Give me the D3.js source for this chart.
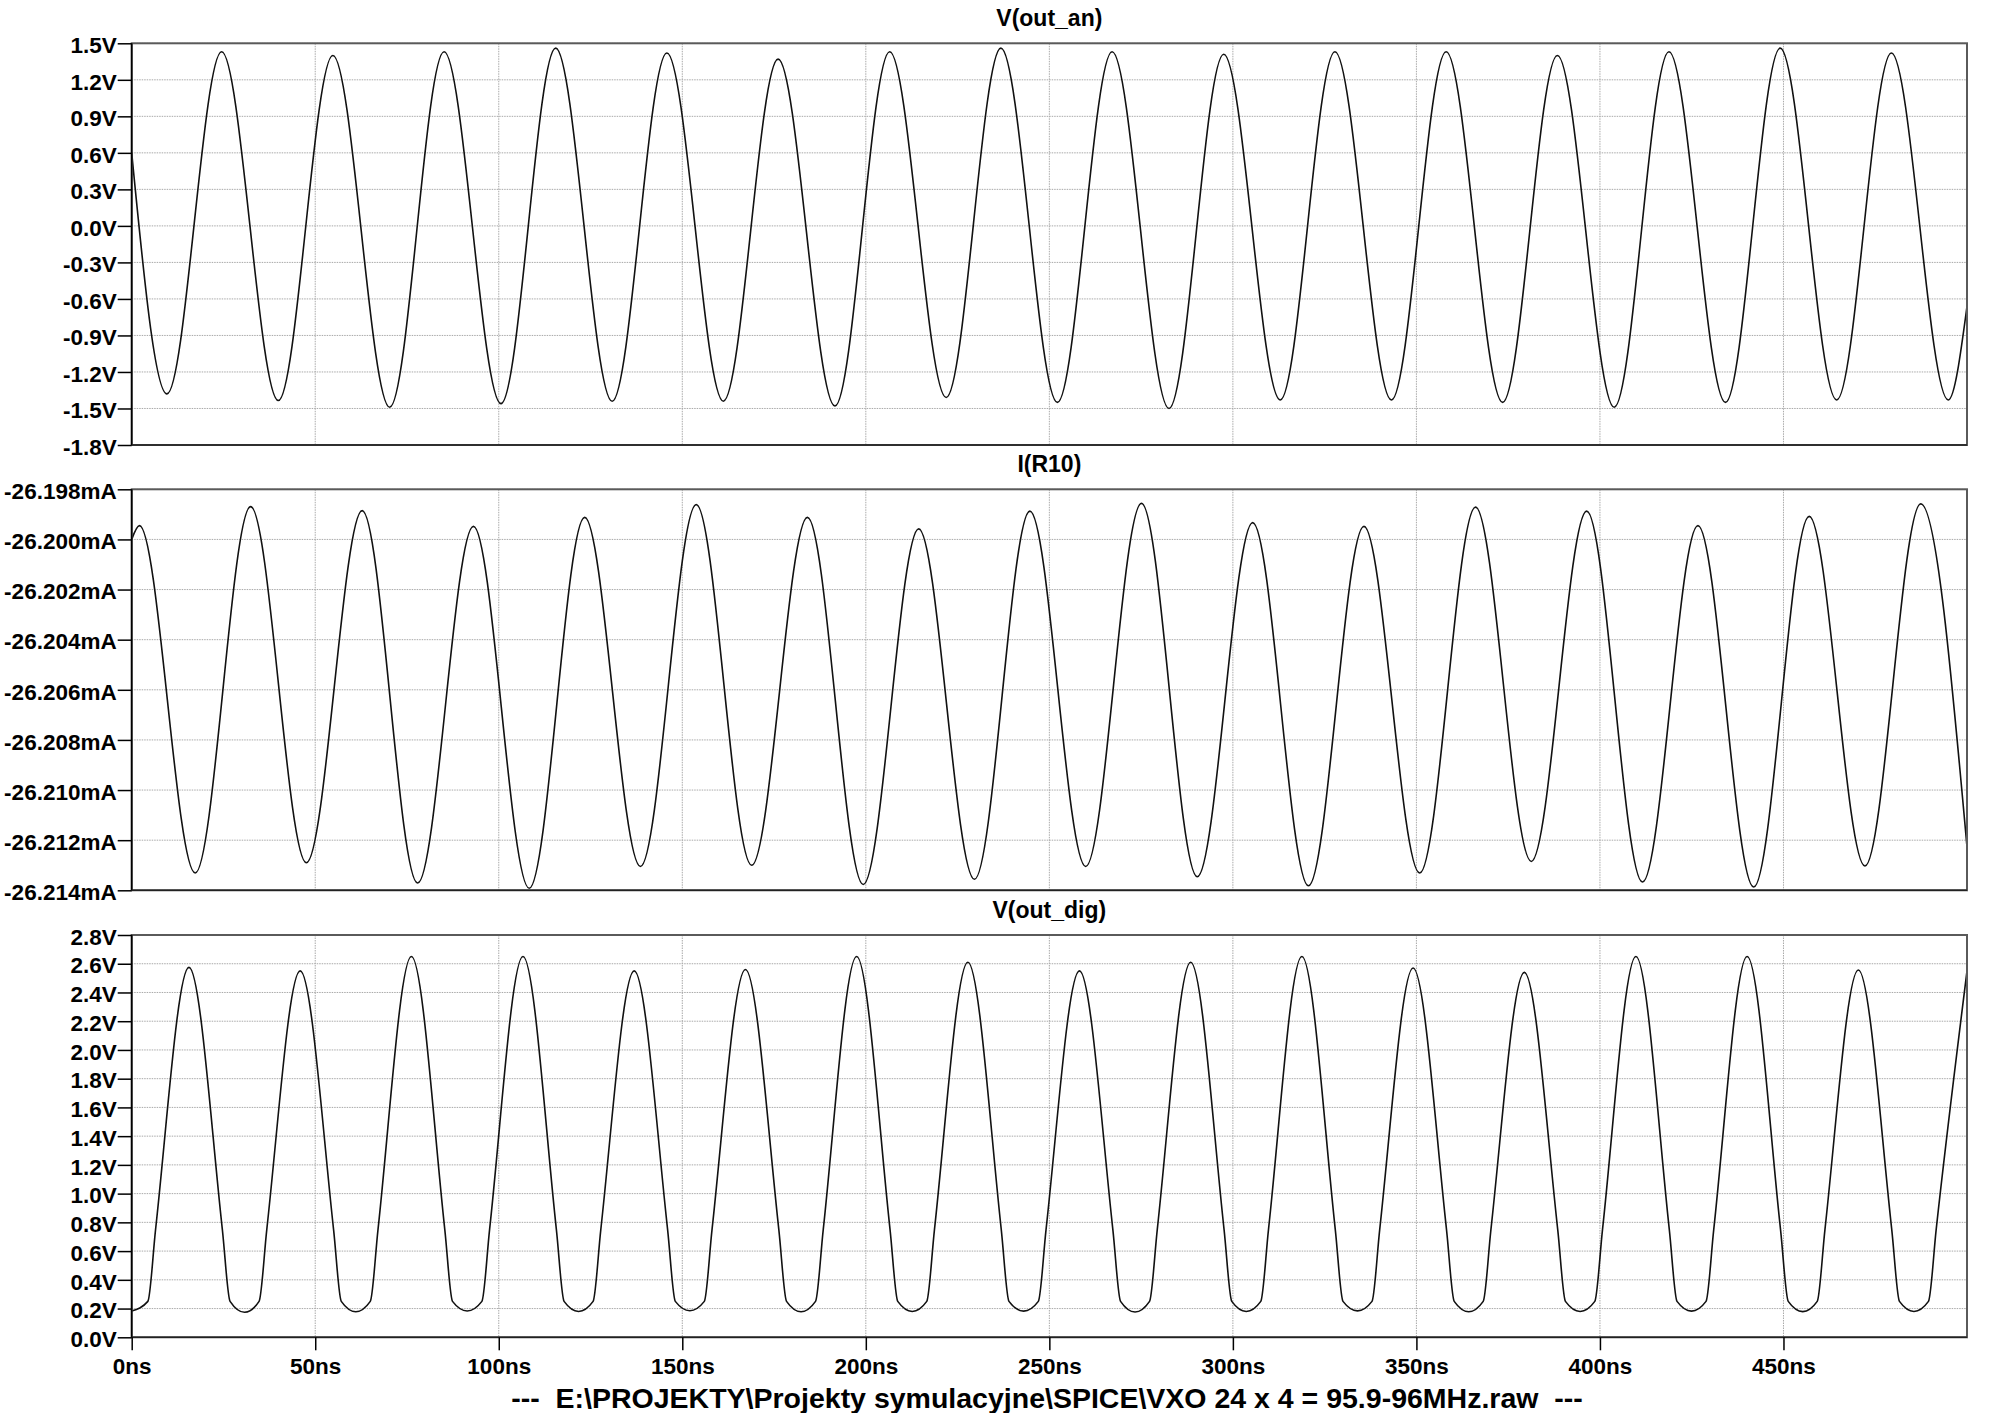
<!DOCTYPE html>
<html><head><meta charset="utf-8">
<script src="https://cdn.jsdelivr.net/npm/d3@7"></script>
<style>
body{margin:0;background:#fff;}
text{font-family:"Liberation Sans",Arial,sans-serif;font-weight:bold;fill:#000;}
</style>
</head><body>
<svg id="chart" width="2000" height="1413"></svg>
<script>
// ---------- data ----------
const timeTicks = [0, 50, 100, 150, 200, 250, 300, 350, 400, 450];
const timeTickLabels = ["0ns","50ns","100ns","150ns","200ns","250ns","300ns","350ns","400ns","450ns"];
const fileLabel = "---  E:\\PROJEKTY\\Projekty symulacyjne\\SPICE\\VXO 24 x 4 = 95.9-96MHz.raw  ---";

const anTitle = "V(out_an)";
const anTicks = [1.5, 1.2, 0.9, 0.6, 0.3, 0.0, -0.3, -0.6, -0.9, -1.2, -1.5, -1.8];
const anTickLabels = ["1.5V","1.2V","0.9V","0.6V","0.3V","0.0V","-0.3V","-0.6V","-0.9V","-1.2V","-1.5V","-1.8V"];
const anTime = [0, 9.6, 24.5, 39.95, 54.8, 70.3, 85.1, 100.6, 115.5, 130.9, 145.8, 161.2, 176.1, 191.6, 206.5, 221.9, 236.8, 252.2, 267.1, 282.6, 297.5, 312.9, 327.8, 343.2, 358.1, 373.5, 388.4, 403.9, 418.8, 434.2, 449.1, 464.5, 479.4, 494.9, 500];
const anValue = [0.6, -1.38, 1.43, -1.435, 1.40, -1.49, 1.43, -1.46, 1.46, -1.44, 1.42, -1.44, 1.37, -1.48, 1.43, -1.41, 1.46, -1.45, 1.43, -1.50, 1.41, -1.43, 1.43, -1.43, 1.43, -1.45, 1.40, -1.49, 1.43, -1.45, 1.46, -1.43, 1.42, -1.43, -0.66];

const irTitle = "I(R10)";
const irTicks = [-26.198, -26.200, -26.202, -26.204, -26.206, -26.208, -26.210, -26.212, -26.214];
const irTickLabels = ["-26.198mA","-26.200mA","-26.202mA","-26.204mA","-26.206mA","-26.208mA","-26.210mA","-26.212mA","-26.214mA"];
const irTime = [0, 2.1, 17.3, 32.4, 47.6, 62.8, 77.9, 93.1, 108.3, 123.4, 138.6, 153.8, 168.9, 184.1, 199.3, 214.4, 229.6, 244.7, 259.9, 275.1, 290.3, 305.4, 320.6, 335.7, 350.9, 366.1, 381.3, 396.4, 411.6, 426.7, 441.9, 457.0, 472.2, 487.4, 500];
const irValue = [-26.2000, -26.19945, -26.21331, -26.19869, -26.2129, -26.19885, -26.21371, -26.19948, -26.21392, -26.19912, -26.21305, -26.19861, -26.2130, -26.19912, -26.21377, -26.19958, -26.21356, -26.19887, -26.21305, -26.19856, -26.21346, -26.19933, -26.21382, -26.19948, -26.21331, -26.19871, -26.21285, -26.19887, -26.21367, -26.19945, -26.21387, -26.19908, -26.21303, -26.19858, -26.21227];

const digTitle = "V(out_dig)";
const digTicks = [2.8, 2.6, 2.4, 2.2, 2.0, 1.8, 1.6, 1.4, 1.2, 1.0, 0.8, 0.6, 0.4, 0.2, 0.0];
const digTickLabels = ["2.8V","2.6V","2.4V","2.2V","2.0V","1.8V","1.6V","1.4V","1.2V","1.0V","0.8V","0.6V","0.4V","0.2V","0.0V"];
const digTime = [0,
  4.4, 6.5, 15.6, 24.7, 26.8, 30.75,
  34.7, 36.8, 45.9, 55.0, 57.1, 61.05,
  65.0, 67.1, 76.2, 85.3, 87.4, 91.4,
  95.4, 97.5, 106.6, 115.7, 117.8, 121.75,
  125.7, 127.8, 136.9, 146.0, 148.1, 152.05,
  156.0, 158.1, 167.2, 176.3, 178.4, 182.35,
  186.3, 188.4, 197.5, 206.6, 208.7, 212.65,
  216.6, 218.7, 227.8, 236.9, 239.0, 243.0,
  247.0, 249.1, 258.2, 267.3, 269.4, 273.35,
  277.3, 279.4, 288.5, 297.6, 299.7, 303.65,
  307.6, 309.7, 318.8, 327.9, 330.0, 333.95,
  337.9, 340.0, 349.1, 358.2, 360.3, 364.25,
  368.2, 370.3, 379.4, 388.5, 390.6, 394.6,
  398.6, 400.7, 409.8, 418.9, 421.0, 424.95,
  428.9, 431.0, 440.1, 449.2, 451.3, 455.25,
  459.2, 461.3, 470.4, 479.5, 481.6, 485.55,
  489.5, 491.6, 500];
const digValue = [0.183,
  0.25, 0.75, 2.575, 0.75, 0.25, 0.174,
  0.25, 0.75, 2.55, 0.75, 0.25, 0.178,
  0.25, 0.75, 2.65, 0.75, 0.25, 0.183,
  0.25, 0.75, 2.65, 0.75, 0.25, 0.180,
  0.25, 0.75, 2.55, 0.75, 0.25, 0.185,
  0.25, 0.75, 2.56, 0.75, 0.25, 0.178,
  0.25, 0.75, 2.65, 0.75, 0.25, 0.180,
  0.25, 0.75, 2.61, 0.75, 0.25, 0.182,
  0.25, 0.75, 2.55, 0.75, 0.25, 0.176,
  0.25, 0.75, 2.61, 0.75, 0.25, 0.180,
  0.25, 0.75, 2.65, 0.75, 0.25, 0.184,
  0.25, 0.75, 2.57, 0.75, 0.25, 0.178,
  0.25, 0.75, 2.54, 0.75, 0.25, 0.180,
  0.25, 0.75, 2.65, 0.75, 0.25, 0.182,
  0.25, 0.75, 2.65, 0.75, 0.25, 0.179,
  0.25, 0.75, 2.556, 0.75, 0.25, 0.180,
  0.25, 0.75, 2.55];

// ---------- layout ----------
const X0 = 131.7, X1 = 1967;
const panels = [
  {title: anTitle, top: 43.3, bottom: 445, domain: [-1.8, 1.5], ticks: anTicks, labels: anTickLabels, t: anTime, v: anValue},
  {title: irTitle, top: 489.3, bottom: 890.3, domain: [-26.214, -26.198], ticks: irTicks, labels: irTickLabels, t: irTime, v: irValue},
  {title: digTitle, top: 935, bottom: 1337.3, domain: [0, 2.8], ticks: digTicks, labels: digTickLabels, t: digTime, v: digValue}
];

const svg = d3.select("#chart");
svg.append("rect").attr("width", 2000).attr("height", 1413).attr("fill", "#fff");
const x = d3.scaleLinear().domain([0, 500]).range([X0, X1]);

panels.forEach((p, pi) => {
  const y = d3.scaleLinear().domain(p.domain).range([p.bottom, p.top]);
  const g = svg.append("g");
  const clipId = "clip" + pi;
  svg.append("defs").append("clipPath").attr("id", clipId)
    .append("rect").attr("x", X0).attr("y", p.top - 1).attr("width", X1 - X0).attr("height", p.bottom - p.top + 2);

  // horizontal grid
  g.append("g").selectAll("line").data(p.ticks).join("line")
    .attr("x1", X0).attr("x2", X1)
    .attr("y1", d => y(d)).attr("y2", d => y(d))
    .attr("stroke", "#a9a9a9").attr("stroke-width", 1).attr("stroke-dasharray", "1.5,1");
  // vertical grid
  g.append("g").selectAll("line").data(timeTicks.filter(d => d > 0)).join("line")
    .attr("x1", d => x(d)).attr("x2", d => x(d))
    .attr("y1", p.top).attr("y2", p.bottom)
    .attr("stroke", "#a9a9a9").attr("stroke-width", 1).attr("stroke-dasharray", "1.5,1");

  // waveform
  const pts = p.t.map((t, i) => [t, p.v[i]]);
  const line = d3.line().x(d => x(d[0])).y(d => y(d[1])).curve(d3.curveMonotoneX);
  g.append("path").datum(pts).attr("d", line)
    .attr("clip-path", `url(#${clipId})`)
    .attr("fill", "none").attr("stroke", "#111").attr("stroke-width", 1.6);

  // frame
  g.append("rect").attr("x", X0).attr("y", p.top).attr("width", X1 - X0).attr("height", p.bottom - p.top)
    .attr("fill", "none").attr("stroke", "#5a5a5a").attr("stroke-width", 2);
  g.append("line").attr("x1", X0).attr("x2", X0).attr("y1", p.top).attr("y2", p.bottom)
    .attr("stroke", "#000").attr("stroke-width", 1.6);
  g.append("line").attr("x1", X0).attr("x2", X1).attr("y1", p.bottom).attr("y2", p.bottom)
    .attr("stroke", "#222").attr("stroke-width", 1.6);

  // left axis
  const ax = g.append("g").attr("transform", `translate(${X0},0)`)
    .call(d3.axisLeft(y).tickValues(p.ticks).tickFormat(d => p.labels[p.ticks.indexOf(d)]).tickSize(14).tickPadding(1));
  ax.select(".domain").remove();
  ax.selectAll(".tick line").attr("stroke", "#000").attr("stroke-width", 1.5);
  ax.selectAll(".tick text").attr("font-size", 22.5).attr("dy", "0.41em")
    .style("font-family", '"Liberation Sans", Arial, sans-serif').style("font-weight", "bold").attr("fill", "#000");

  // title
  g.append("text").attr("x", (X0 + X1) / 2).attr("y", p.top - 17)
    .attr("text-anchor", "middle").attr("font-size", 23).text(p.title);

  if (pi === panels.length - 1) {
    const bx = g.append("g").attr("transform", `translate(0,${p.bottom})`)
      .call(d3.axisBottom(x).tickValues(timeTicks).tickFormat(d => timeTickLabels[timeTicks.indexOf(d)]).tickSize(13).tickPadding(8));
    bx.select(".domain").remove();
    bx.selectAll(".tick line").attr("stroke", "#000").attr("stroke-width", 1.5);
    bx.selectAll(".tick text").attr("font-size", 22.5)
      .style("font-family", '"Liberation Sans", Arial, sans-serif').style("font-weight", "bold").attr("fill", "#000");
  }
});

svg.append("text").attr("x", 1047).attr("y", 1408).attr("text-anchor", "middle")
  .style("white-space", "pre").attr("xml:space", "preserve")
  .attr("font-size", 28.5).text(fileLabel);
</script>
</body></html>
